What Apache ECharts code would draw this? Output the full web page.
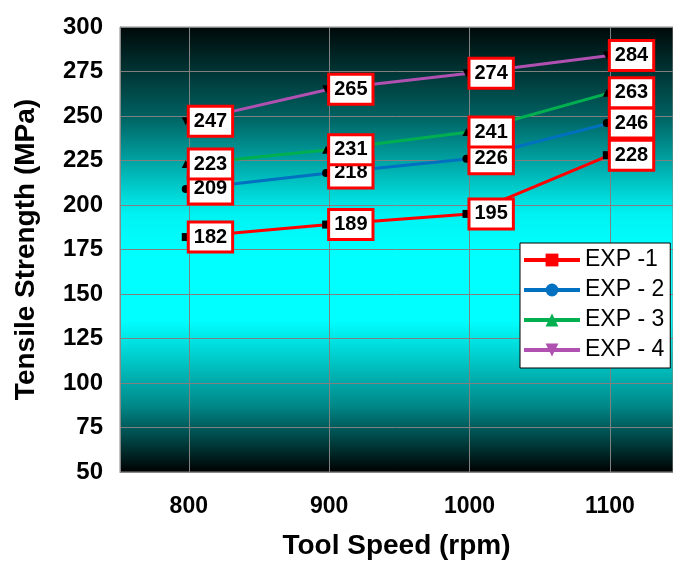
<!DOCTYPE html>
<html><head><meta charset="utf-8">
<script src="https://cdn.jsdelivr.net/npm/echarts@6/dist/echarts.min.js"></script>
<style>html,body{margin:0;padding:0;background:#fff}#c{width:673px;height:565px}</style>
</head><body><div id="c"></div>
<script>
const speeds = [800, 900, 1000, 1100];
const seriesNames = ['EXP -1', 'EXP - 2', 'EXP - 3', 'EXP - 4'];
const exp1 = [182, 189, 195, 228];
const exp2 = [209, 218, 226, 246];
const exp3 = [223, 231, 241, 263];
const exp4 = [247, 265, 274, 284];
const yTicks = [50, 75, 100, 125, 150, 175, 200, 225, 250, 275, 300];

const colors = ['#FF0000', '#0070C0', '#00B050', '#B050B0'];
const symbols = ['rect', 'circle', 'triangle', 'path://M0,0 L10,0 L5,10 Z'];
const all = [exp1, exp2, exp3, exp4];
const font = "'Liberation Sans', Arial, sans-serif";

function hasFont(name) {
  const c = document.createElement('canvas').getContext('2d');
  c.font = "bold 24px monospace";
  const a = c.measureText('247 EXP').width;
  c.font = "bold 24px '" + name + "', monospace";
  const b = c.measureText('247 EXP').width;
  return Math.abs(a - b) > 0.5;
}
const narrow = hasFont('Liberation Sans Narrow');
const lblFont = narrow ? "'Liberation Sans Narrow', 'Liberation Sans', Arial, sans-serif" : font;
const lblSize = narrow ? 24 : 20;

const chart = echarts.init(document.getElementById('c'));
const series = all.map((vals, i) => ({
  name: seriesNames[i],
  type: 'line',
  data: speeds.map((s, j) => [s, vals[j]]),
  symbol: symbols[i],
  symbolSize: 8,
  symbolOffset: [-3, 0],
  lineStyle: { color: colors[i], width: 3 },
  itemStyle: { color: '#000' },
  z: 3 + i,
  label: {
    show: true, position: 'right', distance: 0,
    color: '#000', fontFamily: lblFont, fontWeight: 'bold', fontSize: lblSize,
    lineHeight: narrow ? 25 : 25,
    backgroundColor: '#fff', borderColor: '#FF0000', borderWidth: 3,
    padding: [2, 4, 0, 4]
  }
}));

chart.setOption({
  backgroundColor: '#fff',
  animation: false,
  grid: {
    left: 120, right: 0, top: 27, bottom: 87,
    show: true, borderColor: '#888', borderWidth: 1,
    backgroundColor: new echarts.graphic.LinearGradient(0, 0, 0, 1, [
      { offset: 0, color: '#000808' },
      { offset: 0.2, color: '#006060' },
      { offset: 0.42, color: '#00F2F2' },
      { offset: 0.5, color: '#00FFFF' },
      { offset: 0.66, color: '#00FFFF' },
      { offset: 0.85, color: '#008888' },
      { offset: 1, color: '#000000' }
    ])
  },
  xAxis: {
    type: 'value', min: 751, max: 1145,
    name: 'Tool Speed (rpm)', nameLocation: 'middle', nameGap: 60,
    nameTextStyle: { fontFamily: font, fontWeight: 'bold', fontSize: 28, color: '#000' },
    axisLine: { show: true, lineStyle: { color: '#888' } },
    axisTick: { show: false, customValues: speeds },
    axisLabel: { customValues: speeds, margin: 23, fontFamily: font, fontWeight: 'bold', fontSize: 23, color: '#000',
      formatter: v => String(v) },
    splitLine: { show: true, lineStyle: { color: '#808080', width: 1 } }
  },
  yAxis: {
    type: 'value', min: 50, max: 300, interval: 25,
    name: 'Tensile Strength (MPa)', nameLocation: 'middle', nameGap: 80,
    nameTextStyle: { fontFamily: font, fontWeight: 'bold', fontSize: 28, color: '#000' },
    axisLine: { show: true, lineStyle: { color: '#888' } },
    axisTick: { show: false },
    axisLabel: { margin: 17, fontFamily: font, fontWeight: 'bold', fontSize: 24, color: '#000',
      formatter: v => yTicks.includes(v) ? String(v) : '' },
    splitLine: { show: true, lineStyle: { color: '#808080', width: 1 } }
  },
  legend: {
    orient: 'vertical', left: 520, top: 243,
    backgroundColor: '#fff', borderColor: '#000', borderWidth: 1,
    padding: [4, 6, 5, 2], itemGap: 4, itemWidth: 56, itemHeight: 16,
    lineStyle: { width: 4 },
    textStyle: { fontFamily: font, fontSize: 23, color: '#000', lineHeight: 26 },
    data: seriesNames.map((n, i) => ({ name: n, itemStyle: { color: colors[i] } }))
  },
  series: series
});
</script></body></html>
